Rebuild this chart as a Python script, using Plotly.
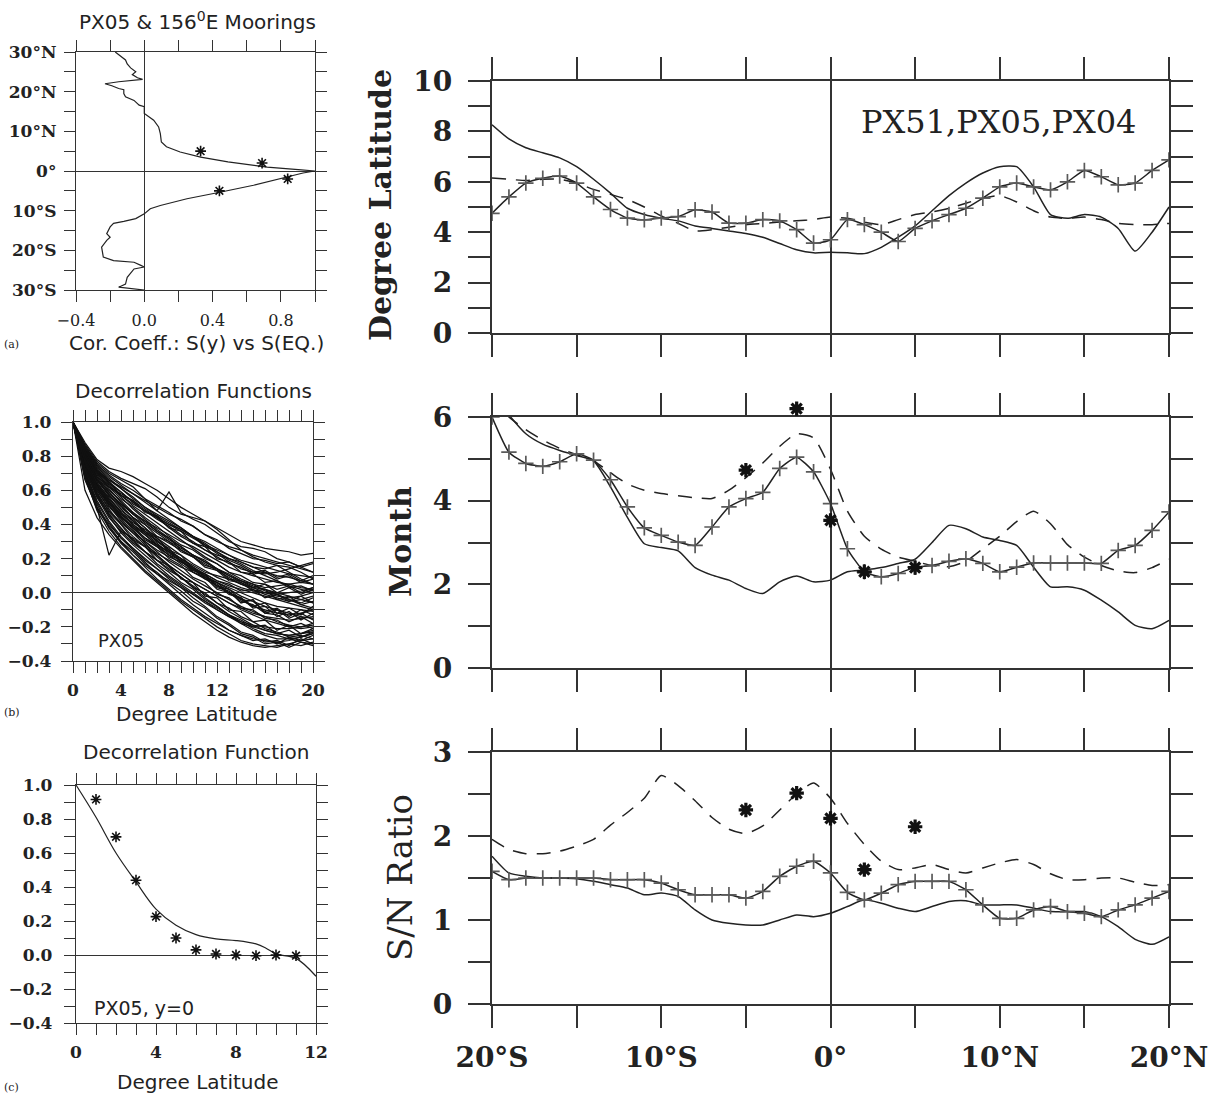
import plotly.graph_objects as go

W, H = 1219, 1094

# ---------------- data ----------------
# (a) correlation coefficient vs latitude
a_lat = [30, 29, 28, 27, 26, 25, 24.3, 23.5, 23.1, 22.5, 22.0, 21.5, 20.8, 20.5, 19.5, 18.7, 17.8,
         16.6, 16.2, 14.5, 12.8, 11.1, 9.4, 7.3, 6.1, 4.8, 3.5, 2.3, 1.0, 0.3, 0.0,
         -0.5, -1.5, -3.6, -5.3, -7.0, -8.7, -9.5, -10.8, -12.0, -12.7, -13.2, -14.1, -15.8,
         -16.7, -17.5, -19.2, -21.7, -22.6, -23.0, -23.8, -24.2, -24.7, -25.9, -26.8, -28.5, -29.3, -30.0]
a_corr = [-0.17, -0.14, -0.11, -0.10, -0.08, -0.05, -0.07, -0.04, -0.01, -0.15, -0.23, -0.19, -0.15, -0.12, -0.12, -0.11, -0.06,
          -0.03, 0.0, 0.0, 0.055, 0.084, 0.094, 0.10, 0.13, 0.21, 0.33, 0.49, 0.72, 0.92, 1.0,
          0.93, 0.84, 0.64, 0.45, 0.25, 0.094, 0.035, 0.0, -0.05, -0.12, -0.18, -0.20, -0.22,
          -0.20, -0.22, -0.25, -0.24, -0.18, -0.06, -0.02, 0.0, -0.06, -0.08, -0.10, -0.11, -0.15, 0.0]
a_star_lat = [5, 2, -2, -5]
a_star_corr = [0.33, 0.69, 0.84, 0.44]
a_ytickvals = [30, 20, 10, 0, -10, -20, -30]
a_yticktext = ["30°N", "20°N", "10°N", "0°", "10°S", "20°S", "30°S"]
a_xtickvals = [-0.4, 0.0, 0.4, 0.8]
a_xticktext = ["\u22120.4", "0.0", "0.4", "0.8"]

# (b) decorrelation functions, PX05 (lag 0..20 degrees)
b_lag = list(range(21))
b_curves = [
    [1, .88, .78, .73, .71, .68, .64, .60, .55, .50, .46, .42, .38, .34, .30, .28, .26, .25, .24, .22, .23],
    [1, .86, .76, .70, .66, .62, .55, .48, .59, .47, .43, .40, .35, .30, .27, .26, .24, .20, .18, .15, .12],
    [1, .82, .70, .62, .57, .52, .48, .44, .40, .37, .33, .30, .26, .22, .18, .15, .14, .16, .12, .08, .05],
    [1, .80, .66, .58, .52, .46, .42, .38, .34, .30, .27, .23, .19, .15, .12, .10, .08, .06, .05, .03, .02],
    [1, .78, .62, .52, .44, .38, .32, .28, .24, .20, .16, .12, .10, .08, .05, .03, .02, .00, -.02, -.04, -.06],
    [1, .75, .58, .45, .35, .28, .22, .16, .10, .05, .00, -.05, -.10, -.14, -.18, -.20, -.22, -.24, -.25, -.24, -.22],
    [1, .70, .52, .38, .30, .22, .15, .08, .02, -.04, -.09, -.14, -.18, -.22, -.25, -.27, -.28, -.29, -.28, -.26, -.24],
    [1, .72, .50, .22, .36, .32, .27, .22, .16, .11, .06, .02, -.02, -.06, -.09, -.12, -.14, -.15, -.16, -.15, -.14],
    [1, .60, .44, .34, .26, .19, .12, .06, .00, -.06, -.12, -.17, -.22, -.26, -.29, -.31, -.32, -.31, -.30, -.28, -.27],
    [1, .85, .74, .67, .61, .55, .50, .45, .41, .37, .33, .29, .24, .20, .17, .13, .10, .07, .04, .02, .00],
    [1, .84, .72, .64, .57, .51, .46, .41, .36, .31, .26, .21, .17, .12, .08, .05, .03, .04, .05, .06, .05],
    [1, .83, .71, .63, .56, .49, .43, .37, .32, .27, .22, .18, .14, .10, .06, .03, .00, -.02, -.03, -.02, .00],
    [1, .81, .68, .59, .51, .44, .38, .32, .27, .22, .17, .13, .09, .06, .03, .01, .00, -.01, .00, .01, .03],
    [1, .79, .65, .55, .47, .40, .34, .28, .22, .17, .12, .08, .04, .00, -.04, -.08, -.10, -.12, -.13, -.12, -.10],
    [1, .77, .64, .54, .45, .37, .29, .22, .16, .11, .06, .02, -.02, -.06, -.10, -.13, -.16, -.18, -.20, -.21, -.20],
    [1, .76, .60, .49, .40, .33, .27, .21, .15, .09, .03, -.03, -.08, -.13, -.18, -.22, -.25, -.27, -.27, -.26, -.24],
    [1, .74, .58, .48, .41, .35, .30, .25, .21, .18, .14, .10, .06, .02, -.02, -.05, -.08, -.10, -.12, -.14, -.15],
    [1, .80, .68, .62, .58, .54, .49, .44, .38, .33, .29, .25, .22, .20, .18, .15, .12, .10, .09, .07, .05],
    [1, .83, .72, .66, .62, .58, .54, .50, .46, .43, .39, .34, .30, .27, .25, .22, .20, .18, .16, .14, .12],
    [1, .87, .77, .71, .67, .64, .61, .56, .50, .46, .44, .42, .37, .31, .25, .21, .18, .16, .15, .12, .08],
    [1, .79, .63, .51, .42, .35, .28, .23, .19, .15, .12, .09, .06, .03, .00, -.03, -.06, -.08, -.09, -.10, -.11],
    [1, .69, .50, .38, .29, .22, .16, .11, .07, .03, -.01, -.05, -.09, -.13, -.17, -.21, -.24, -.25, -.27, -.29, -.30],
    [1, .73, .56, .44, .36, .29, .24, .19, .14, .09, .04, -.01, -.06, -.11, -.15, -.19, -.22, -.24, -.25, -.24, -.23],
    [1, .82, .70, .61, .53, .46, .40, .35, .30, .26, .22, .18, .14, .10, .07, .04, .02, -.01, -.04, -.07, -.09],
    [1, .78, .63, .53, .46, .41, .37, .33, .29, .25, .21, .17, .13, .09, .05, .02, -.01, -.03, -.05, -.04, -.02],
    [1, .84, .73, .65, .59, .53, .48, .44, .40, .36, .32, .28, .25, .22, .19, .17, .15, .13, .11, .10, .09],
    [1, .76, .61, .51, .43, .36, .30, .24, .18, .13, .08, .04, .00, -.04, -.08, -.11, -.14, -.17, -.19, -.20, -.19],
    [1, .71, .54, .42, .33, .26, .20, .14, .09, .04, -.01, -.06, -.10, -.14, -.17, -.19, -.20, -.21, -.21, -.20, -.18],
    [1, .86, .75, .68, .63, .58, .53, .48, .43, .38, .33, .28, .23, .18, .14, .12, .11, .12, .14, .16, .18],
    [1, .81, .67, .57, .49, .42, .36, .30, .25, .20, .15, .11, .07, .04, .02, .00, -.02, -.04, -.06, -.08, -.10],
    [1, .77, .63, .55, .48, .43, .36, .32, .25, .22, .14, .11, .03, .01, -.06, -.04, -.12, -.10, -.15, -.12, -.16],
    [1, .80, .66, .57, .51, .44, .40, .33, .30, .24, .21, .15, .13, .07, .06, .01, .02, -.04, -.02, -.07, -.05],
    [1, .74, .59, .47, .40, .31, .27, .19, .16, .08, .06, -.02, -.03, -.10, -.11, -.17, -.16, -.22, -.19, -.24, -.21],
    [1, .83, .71, .65, .57, .54, .47, .45, .38, .36, .29, .27, .20, .18, .12, .11, .06, .07, .03, .04, .01],
    [1, .68, .48, .36, .27, .20, .13, .07, .01, -.05, -.10, -.15, -.20, -.24, -.28, -.30, -.31, -.32, -.30, -.31, -.29],
    [1, .75, .60, .50, .44, .38, .31, .27, .22, .19, .13, .11, .07, .05, .01, .02, -.03, -.01, -.05, -.02, -.06],
    [1, .66, .50, .40, .32, .25, .18, .11, .05, -.01, -.07, -.12, -.17, -.22, -.25, -.28, -.27, -.30, -.26, -.28, -.25],
    [1, .73, .57, .46, .38, .30, .24, .17, .12, .06, .02, -.04, -.08, -.13, -.16, -.20, -.19, -.24, -.22, -.26, -.23],
    [1, .79, .66, .57, .50, .44, .38, .30, .26, .18, .15, .09, .05, -.01, -.03, -.09, -.08, -.14, -.11, -.16, -.12],
    [1, .82, .69, .60, .54, .47, .42, .36, .32, .25, .21, .16, .14, .08, .07, .03, .05, .00, .03, -.01, .02],
    [1, .84, .74, .66, .61, .56, .50, .46, .42, .38, .33, .27, .24, .19, .16, .12, .13, .09, .11, .07, .10],
    [1, .75, .61, .52, .45, .39, .34, .28, .24, .18, .14, .08, .06, .00, -.03, -.08, -.06, -.12, -.09, -.13, -.08],
    [1, .70, .53, .41, .32, .26, .19, .14, .08, .03, -.03, -.08, -.14, -.18, -.23, -.25, -.29, -.28, -.31, -.27, -.30],
    [1, .78, .64, .56, .47, .42, .35, .31, .24, .20, .13, .10, .04, .02, -.04, -.05, -.11, -.09, -.14, -.10, -.13],
    [1, .81, .70, .62, .55, .50, .44, .39, .33, .28, .25, .20, .17, .12, .10, .06, .05, .02, .04, .00, .03],
    [1, .76, .62, .53, .44, .39, .32, .27, .20, .16, .09, .06, -.01, -.03, -.09, -.10, -.15, -.16, -.20, -.18, -.21],
    [1, .85, .75, .69, .64, .60, .55, .51, .47, .42, .39, .34, .31, .26, .23, .20, .19, .17, .18, .15, .17],
    [1, .72, .56, .46, .37, .31, .24, .19, .13, .09, .03, .00, -.06, -.09, -.14, -.17, -.21, -.23, -.26, -.25, -.27],
    [1, .80, .67, .59, .52, .47, .41, .36, .31, .27, .22, .19, .14, .11, .07, .05, .01, -.01, -.04, -.06, -.03],
    [1, .67, .49, .39, .30, .24, .17, .12, .06, .01, -.05, -.09, -.15, -.19, -.24, -.26, -.30, -.29, -.32, -.29, -.31],
    [1, .83, .72, .64, .59, .53, .48, .43, .39, .34, .30, .25, .21, .17, .15, .11, .12, .08, .10, .06, .08],
    [1, .77, .62, .54, .46, .40, .35, .29, .23, .19, .12, .09, .02, .00, -.05, -.07, -.12, -.13, -.17, -.14, -.18],
]

# (c) decorrelation function at y=0
c_lag = [0, 1, 2, 3, 4, 5, 6, 7, 8, 9, 9.5, 10, 11, 12]
c_fit = [1.0, 0.81, 0.60, 0.43, 0.27, 0.175, 0.12, 0.095, 0.085, 0.065, 0.04, 0.006, -0.02, -0.125]
c_star_lag = [1, 2, 3, 4, 5, 6, 7, 8, 9, 10, 11]
c_star_val = [0.915, 0.695, 0.44, 0.226, 0.10, 0.03, 0.006, 0.0, -0.004, 0.0, -0.004]
lr_tickvals = [-0.4, -0.2, 0.0, 0.2, 0.4, 0.6, 0.8, 1.0]
lr_ticktext = ["\u22120.4", "\u22120.2", "0.0", "0.2", "0.4", "0.6", "0.8", "1.0"]
b_xtickvals = [0, 4, 8, 12, 16, 20]
c_xtickvals = [0, 4, 8, 12]

# right-hand panels: latitude -20..20
lat = list(range(-20, 21))
# Degree Latitude panel
lat_solid = [8.26, 7.7, 7.35, 7.15, 6.95, 6.6, 6.1, 5.55, 4.95, 4.7, 4.55, 4.45, 4.25, 4.15, 4.05, 3.95, 3.8, 3.55, 3.3, 3.18,
             3.2, 3.18, 3.15, 3.4, 3.8, 4.25, 4.85, 5.45, 5.95, 6.35, 6.6, 6.6, 5.8, 4.7, 4.55, 4.7, 4.6, 4.15, 3.25, 4.0, 5.0]
lat_dash = [6.15, 6.1, 6.05, 6.1, 6.1, 5.95, 5.7, 5.5, 5.3, 5.0, 4.65, 4.35, 4.05, 4.1, 4.2, 4.3, 4.35, 4.4, 4.45, 4.5,
            4.6, 4.55, 4.4, 4.3, 4.5, 4.7, 4.8, 4.95, 5.15, 5.35, 5.45, 5.2, 4.85, 4.6, 4.55, 4.6, 4.5, 4.35, 4.3, 4.3, 4.35]
lat_plus = [4.75, 5.4, 5.95, 6.14, 6.23, 5.95, 5.4, 4.9, 4.56, 4.49, 4.56, 4.62, 4.89, 4.8, 4.36, 4.36, 4.5, 4.45, 4.1, 3.57,
            3.7, 4.5, 4.3, 4.0, 3.63, 4.15, 4.45, 4.7, 4.95, 5.35, 5.8, 5.95, 5.8, 5.68, 6.0, 6.45, 6.2, 5.88, 5.95, 6.45, 6.87]
# Month panel
mon_solid = [6.6, 6.05, 5.6, 5.35, 5.2, 5.08, 4.95, 4.33, 3.6, 2.97, 2.88, 2.8, 2.4, 2.22, 2.1, 1.9, 1.78, 2.06, 2.2, 2.06,
             2.1, 2.3, 2.34, 2.4, 2.5, 2.6, 3.0, 3.41, 3.33, 3.13, 3.05, 2.93, 2.41, 1.94, 1.94, 1.86, 1.62, 1.34, 1.02, 0.94, 1.14]
mon_dash = [6.5, 6.0, 5.7, 5.45, 5.25, 5.1, 4.95, 4.67, 4.4, 4.25, 4.17, 4.12, 4.07, 4.05, 4.25, 4.55, 4.9, 5.3, 5.6, 5.5,
            4.75, 3.75, 3.15, 2.84, 2.65, 2.55, 2.45, 2.42, 2.55, 2.85, 3.15, 3.5, 3.75, 3.45, 2.95, 2.65, 2.45, 2.32, 2.28, 2.4, 2.6]
mon_plus = [6.0, 5.16, 4.89, 4.82, 4.93, 5.12, 4.97, 4.5, 3.85, 3.35, 3.17, 3.01, 2.93, 3.37, 3.85, 4.05, 4.2, 4.77, 5.04, 4.69,
            3.93, 2.85, 2.3, 2.18, 2.26, 2.41, 2.45, 2.55, 2.61, 2.5, 2.3, 2.41, 2.51, 2.51, 2.51, 2.51, 2.5, 2.81, 2.93, 3.29, 3.73]
# S/N ratio panel
sn_solid = [1.76, 1.56, 1.52, 1.5, 1.5, 1.49, 1.46, 1.42, 1.38, 1.3, 1.32, 1.28, 1.12, 1.0, 0.96, 0.94, 0.94, 1.0, 1.06, 1.04,
            1.08, 1.16, 1.24, 1.2, 1.14, 1.1, 1.16, 1.22, 1.23, 1.18, 1.18, 1.18, 1.14, 1.1, 1.1, 1.1, 1.04, 0.92, 0.77, 0.71, 0.8]
sn_dash = [1.96, 1.84, 1.79, 1.79, 1.82, 1.88, 1.96, 2.13, 2.28, 2.45, 2.72, 2.6, 2.42, 2.22, 2.08, 2.03, 2.12, 2.31, 2.5, 2.63,
           2.45, 2.15, 1.9, 1.7, 1.6, 1.62, 1.66, 1.6, 1.56, 1.62, 1.68, 1.72, 1.66, 1.55, 1.48, 1.48, 1.5, 1.5, 1.45, 1.41, 1.42]
sn_plus = [1.58, 1.48, 1.5, 1.5, 1.5, 1.5, 1.5, 1.48, 1.48, 1.48, 1.44, 1.36, 1.3, 1.3, 1.3, 1.26, 1.34, 1.52, 1.64, 1.7,
           1.56, 1.33, 1.24, 1.32, 1.42, 1.46, 1.46, 1.46, 1.36, 1.18, 1.02, 1.02, 1.12, 1.16, 1.1, 1.08, 1.04, 1.12, 1.18, 1.26, 1.34]
# mooring estimates (stars)
moor_lat = [-5, -2, 0, 2, 5]
mon_moor = [4.73, 6.2, 3.53, 2.3, 2.4]
sn_moor = [2.31, 2.51, 2.21, 1.6, 2.11]
r_xtickvals = [-20, -10, 0, 10, 20]
r_xticktext = ["20°S", "10°S", "0°", "10°N", "20°N"]

# ---------------- styling helpers ----------------
INK = "#222222"
FRAME = "#333333"
SERIF = "DejaVu Serif"
SANS = "DejaVu Sans"


def fx(x):
    return x / W


def fy(y):
    return 1 - y / H


def dom_x(x0, x1):
    return [fx(x0), fx(x1)]


def dom_y(y0, y1):
    return [fy(y1), fy(y0)]


fig = go.Figure()

line_solid = dict(color=INK, width=1.5, shape="spline", smoothing=0.6)
line_dash = dict(color=INK, width=1.5, dash="14px,10px", shape="spline", smoothing=0.6)
line_plus = dict(color=INK, width=1.5, shape="spline", smoothing=0.5)
mk_plus = dict(symbol="cross-thin", size=11, color="#5a5a5a", line=dict(color="#5a5a5a", width=1.7))
mk_star_r = dict(symbol="asterisk-open", size=12, color="#111", line=dict(color="#111", width=3.2))
mk_star_l = dict(symbol="asterisk-open", size=9, color="#111", line=dict(color="#111", width=1.6))

# (a)
fig.add_trace(go.Scatter(x=a_corr, y=a_lat, mode="lines", line=dict(color=INK, width=1.2),
                         xaxis="x", yaxis="y", showlegend=False))
fig.add_trace(go.Scatter(x=a_star_corr, y=a_star_lat, mode="markers", marker=mk_star_l,
                         xaxis="x", yaxis="y", showlegend=False, cliponaxis=False))
# (b)
for cv in b_curves:
    fig.add_trace(go.Scatter(x=b_lag, y=cv, mode="lines", line=dict(color="#111", width=1.25),
                             xaxis="x2", yaxis="y2", showlegend=False))
# (c)
fig.add_trace(go.Scatter(x=c_lag, y=c_fit, mode="lines", line=dict(color=INK, width=1.2, shape="spline"),
                         xaxis="x3", yaxis="y3", showlegend=False))
fig.add_trace(go.Scatter(x=c_star_lag, y=c_star_val, mode="markers", marker=mk_star_l,
                         xaxis="x3", yaxis="y3", showlegend=False, cliponaxis=False))

# right panels
for ax, (s, d, p) in zip(["4", "5", "6"], [(lat_solid, lat_dash, lat_plus),
                                           (mon_solid, mon_dash, mon_plus),
                                           (sn_solid, sn_dash, sn_plus)]):
    fig.add_trace(go.Scatter(x=lat, y=s, mode="lines", line=line_solid,
                             xaxis="x" + ax, yaxis="y" + ax, showlegend=False))
    fig.add_trace(go.Scatter(x=lat, y=d, mode="lines", line=line_dash,
                             xaxis="x" + ax, yaxis="y" + ax, showlegend=False))
    fig.add_trace(go.Scatter(x=lat, y=p, mode="lines+markers", line=line_plus, marker=mk_plus,
                             xaxis="x" + ax, yaxis="y" + ax, showlegend=False))
# Month stars on an invisible axis sharing the Month scale but extending above the frame
fig.add_trace(go.Scatter(x=moor_lat, y=mon_moor, mode="markers", marker=mk_star_r, cliponaxis=False,
                         xaxis="x5", yaxis="y7", showlegend=False))
fig.add_trace(go.Scatter(x=moor_lat, y=sn_moor, mode="markers", marker=mk_star_r, cliponaxis=False,
                         xaxis="x6", yaxis="y6", showlegend=False))


def left_axis(domain, anchor, rng, tickvals, ticktext, minor_dtick, font, zeroline=False, standoff=4, ticklen=11):
    d = dict(domain=domain, anchor=anchor, range=rng, showgrid=False, automargin=False,
             showline=True, linecolor=FRAME, linewidth=1.3, mirror="ticks",
             ticks="outside", ticklen=ticklen, tickwidth=1.3, tickcolor=FRAME,
             tickmode="array", tickvals=tickvals, tickfont=font, ticklabelstandoff=standoff,
             minor=dict(dtick=minor_dtick, tick0=0, ticks="outside", ticklen=ticklen, tickwidth=1.3,
                        tickcolor=FRAME, showgrid=False),
             zeroline=zeroline, zerolinecolor=FRAME, zerolinewidth=1.3)
    if ticktext is not None:
        d["ticktext"] = ticktext
    return d


boldL = dict(family=SERIF, size=17, color=INK, weight="bold")
regL = dict(family=SERIF, size=16, color=INK)

layout = dict(template="none", width=W, height=H, margin=dict(l=0, r=0, t=0, b=0, pad=0), autosize=False,
              paper_bgcolor="white", plot_bgcolor="rgba(0,0,0,0)", showlegend=False)

layout["xaxis"] = left_axis(dom_x(76, 315), "y", [-0.4, 1.0], a_xtickvals, a_xticktext, 0.2, regL, True, 5)
layout["yaxis"] = left_axis(dom_y(52, 290), "x", [-30, 30], a_ytickvals, a_yticktext, 5, boldL, True, 4)
layout["xaxis2"] = left_axis(dom_x(73, 313), "y2", [0, 20], b_xtickvals, None, 1, boldL, False, 2)
layout["yaxis2"] = left_axis(dom_y(422, 661), "x2", [-0.4, 1.0], lr_tickvals, lr_ticktext, 0.1, boldL, True, 6)
layout["xaxis3"] = left_axis(dom_x(76, 316), "y3", [0, 12], c_xtickvals, None, 1, boldL, False, 2)
layout["yaxis3"] = left_axis(dom_y(785, 1023), "x3", [-0.4, 1.0], lr_tickvals, lr_ticktext, 0.1, boldL, True, 8)

boldR = dict(family=SERIF, size=28, color=INK, weight="bold")


def right_x(domain, anchor, show):
    return dict(domain=domain, anchor=anchor, range=[-20, 20], showgrid=False, automargin=False,
                showline=True, linecolor=FRAME, linewidth=2.2, mirror="ticks",
                ticks="outside", ticklen=22, tickwidth=2.2, tickcolor=FRAME,
                tickmode="array", tickvals=r_xtickvals, ticktext=r_xticktext, showticklabels=show,
                tickfont=boldR, ticklabelstandoff=5,
                minor=dict(dtick=5, tick0=0, ticks="outside", ticklen=22, tickwidth=2.2,
                           tickcolor=FRAME, showgrid=False),
                zeroline=True, zerolinecolor=FRAME, zerolinewidth=2.2)


def right_y(domain, anchor, rng, major, minor):
    return dict(domain=domain, anchor=anchor, range=rng, showgrid=False, automargin=False,
                showline=True, linecolor=FRAME, linewidth=2.2, mirror="ticks",
                ticks="outside", ticklen=22, tickwidth=2.2, tickcolor=FRAME,
                dtick=major, tick0=0, tickfont=boldR, ticklabelstandoff=10,
                minor=dict(dtick=minor, tick0=0, ticks="outside", ticklen=22, tickwidth=2.2,
                           tickcolor=FRAME, showgrid=False),
                zeroline=False)


rx = dom_x(492, 1169)
layout["xaxis4"] = right_x(rx, "y4", False)
layout["yaxis4"] = right_y(dom_y(81, 333), "x4", [0, 10], 2, 1)
layout["xaxis5"] = right_x(rx, "y5", False)
layout["yaxis5"] = right_y(dom_y(417, 668), "x5", [0, 6], 2, 1)
layout["xaxis6"] = right_x(rx, "y6", True)
layout["yaxis6"] = right_y(dom_y(752, 1004), "x6", [0, 3], 1, 0.5)
# same scale as the Month axis (251 px per 6 months), extended by 0.5 month above the frame
month_px = (668 - 417) / 6.0
layout["yaxis7"] = dict(domain=dom_y(417 - 0.5 * month_px, 668), anchor="x5", range=[0, 6.5],
                        visible=False, automargin=False, showgrid=False, zeroline=False)

fig.update_layout(**layout)


def note(text, x, y, size, family=SANS, weight="normal", angle=0, xanchor="center"):
    fig.add_annotation(text=text, x=fx(x), y=fy(y), xref="paper", yref="paper",
                       showarrow=False, xanchor=xanchor, yanchor="middle", textangle=angle,
                       font=dict(family=family, size=size, color=INK, weight=weight))


note("PX05 &amp; 156<sup>0</sup>E Moorings", 197, 21, 20)
note("(a)", 2, 344, 11, SERIF, xanchor="left")
note("Cor. Coeff.: S(y) vs S(EQ.)", 196, 343, 20)
note("Decorrelation Functions", 193, 391, 20)
note("PX05", 121, 640, 18)
note("(b)", 2, 712, 11, SERIF, xanchor="left")
note("Degree Latitude", 196, 714, 20)
note("Decorrelation Function", 196, 752, 20)
note("PX05, y=0", 144, 1008, 19)
note("Degree Latitude", 197, 1082, 20)
note("(c)", 2, 1087, 11, SERIF, xanchor="left")
note("Degree Latitude", 380, 205, 30, SERIF, "bold", -90)
note("Month", 400, 542, 30, SERIF, "bold", -90)
note("S/N Ratio", 400, 878, 34, SERIF, "normal", -90)
note("PX51,PX05,PX04", 998, 122, 32, SERIF)

fig.write_html("out.html")
